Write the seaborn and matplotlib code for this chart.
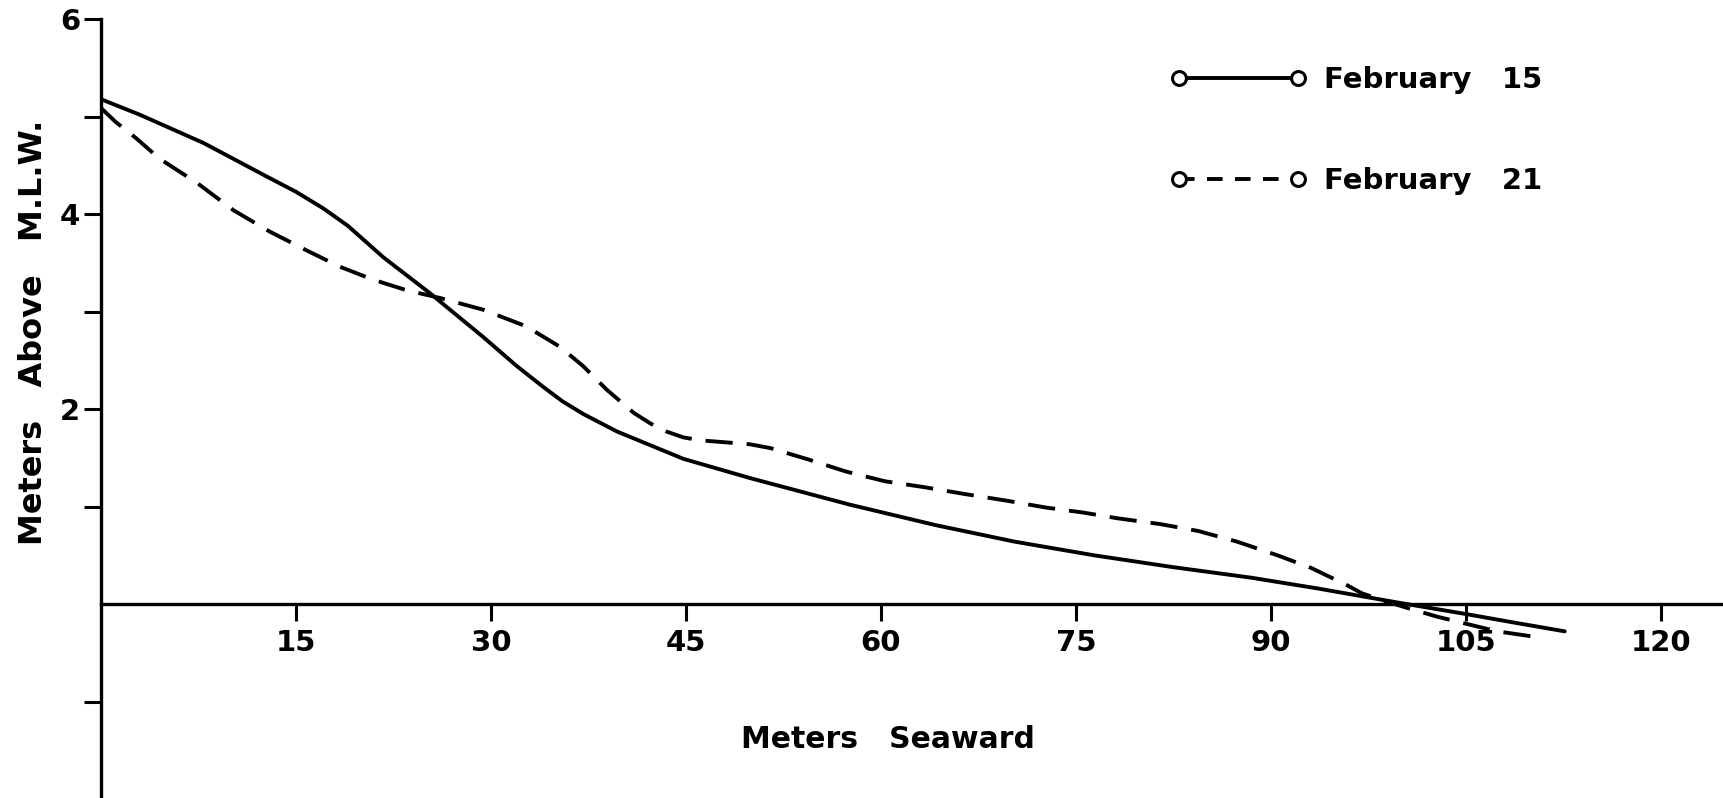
import pandas as pd
import seaborn as sns
import matplotlib.pyplot as plt
from matplotlib.lines import Line2D

# Beach profile readings (distance seaward in m, elevation above M.L.W. in m)
dist_feb15 = [0, 3, 7.9, 12.7, 15, 17.1, 19, 21.7, 25.3, 29.4, 32.0, 34.0, 35.5, 37.1, 39.7, 44.8,
              50, 57.6, 64.2, 70.3, 76.4, 82.4, 88.5, 93.6, 97, 100, 104.9, 108.7, 112.6]
elev_feb15 = [5.18, 5.02, 4.73, 4.39, 4.23, 4.06, 3.88, 3.56, 3.19, 2.74, 2.44, 2.23, 2.08, 1.95,
              1.77, 1.49, 1.29, 1.02, 0.81, 0.64, 0.50, 0.38, 0.27, 0.16, 0.08, 0.01, -0.10,
              -0.19, -0.28]

dist_feb21 = [0, 1.1, 2.7, 4.5, 7.4, 10.2, 13.0, 15.8, 18.4, 20.9, 23.5, 26.1, 29.4, 32.7,
              35.3, 37.1, 38.9, 41.0, 42.3, 43.5, 44.8, 46.1, 49.9, 51.5, 54.5, 57.3, 60.3, 63.3,
              66.4, 69.7, 72.7, 75.5, 78.2, 81.5, 84.4, 87.4, 90.5, 93.1, 95.9, 97.0, 99.0, 101.0,
              102.8, 107.4, 110]
elev_feb21 = [5.09, 4.95, 4.78, 4.57, 4.32, 4.04, 3.82, 3.63, 3.46, 3.33, 3.22, 3.14, 3.02, 2.85,
              2.64, 2.44, 2.20, 1.96, 1.85, 1.77, 1.71, 1.68, 1.64, 1.60, 1.48, 1.36, 1.26, 1.20,
              1.13, 1.06, 0.99, 0.94, 0.88, 0.82, 0.75, 0.64, 0.50, 0.37, 0.19, 0.11, 0.02, -0.06,
              -0.13, -0.28, -0.33]

labels = ['February   15', 'February   21']
x_ticks = [15, 30, 45, 60, 75, 90, 105, 120]
y_ticks = [2, 4, 6]
y_minor = [-1, 1, 3, 5]

feb15 = pd.DataFrame({'dist': dist_feb15, 'elev': elev_feb15})
feb21 = pd.DataFrame({'dist': dist_feb21, 'elev': elev_feb21})

sns.set_style('ticks')
plt.rcParams['font.family'] = ['DejaVu Sans']
plt.rcParams['text.color'] = 'black'
plt.rcParams['axes.labelcolor'] = 'black'
plt.rcParams['xtick.color'] = 'black'
plt.rcParams['ytick.color'] = 'black'

fig = plt.figure(figsize=(17.24, 7.98), dpi=100)
ax = fig.add_axes([0.0586, 0.0, 0.9414, 0.9758])

dash = (0, (7.0, 3.6))
sns.lineplot(data=feb15, x='dist', y='elev', color='black', lw=2.8, sort=False,
             estimator=None, ax=ax)
sns.lineplot(data=feb21, x='dist', y='elev', color='black', lw=2.8, sort=False,
             estimator=None, linestyle=dash, ax=ax)

ax.set_xlim(0, 124.85)
ax.set_ylim(-1.99, 6)

# axes: y spine on the left, x axis drawn at zero elevation
for s in ['top', 'right']:
    ax.spines[s].set_visible(False)
ax.spines['bottom'].set_position(('data', 0))
for s in ['left', 'bottom']:
    ax.spines[s].set_linewidth(2.4)
    ax.spines[s].set_color('black')

ax.set_xticks(x_ticks)
ax.set_xticklabels([str(t) for t in x_ticks], fontweight='bold', fontsize=21)
ax.set_yticks(y_ticks)
ax.set_yticks(y_minor, minor=True)
ax.set_yticklabels([str(t) for t in y_ticks], fontweight='bold', fontsize=21)
ax.tick_params(axis='x', which='major', direction='out', length=12, width=2.2, pad=6)
ax.tick_params(axis='y', which='both', direction='out', length=12, width=2.2, pad=3)

ax.set_xlabel('')
ax.set_ylabel('Meters   Above   M.L.W.', fontsize=23, fontweight='bold')
ax.yaxis.set_label_coords(-0.032, 0.598)
ax.text(60.5, -1.39, 'Meters   Seaward', fontsize=21.5, fontweight='bold',
        ha='center', va='center')

# legend with open circles at both ends of the line
marker_kw = dict(marker='o', markersize=10, markerfacecolor='white',
                 markeredgecolor='black', markeredgewidth=2.2)
handles = [
    Line2D([], [], color='black', lw=2.8, **marker_kw),
    Line2D([], [], color='black', lw=2.8, linestyle=(0, (4.0, 3.2)), **marker_kw),
]
fig.legend(handles, labels, loc='upper left', bbox_to_anchor=(0.679, 0.917),
           frameon=False, numpoints=2, handlelength=4.67, handletextpad=0.6,
           labelspacing=2.5, borderpad=0, borderaxespad=0,
           prop={'weight': 'bold', 'size': 21})

fig.savefig('out.png', dpi=100)
